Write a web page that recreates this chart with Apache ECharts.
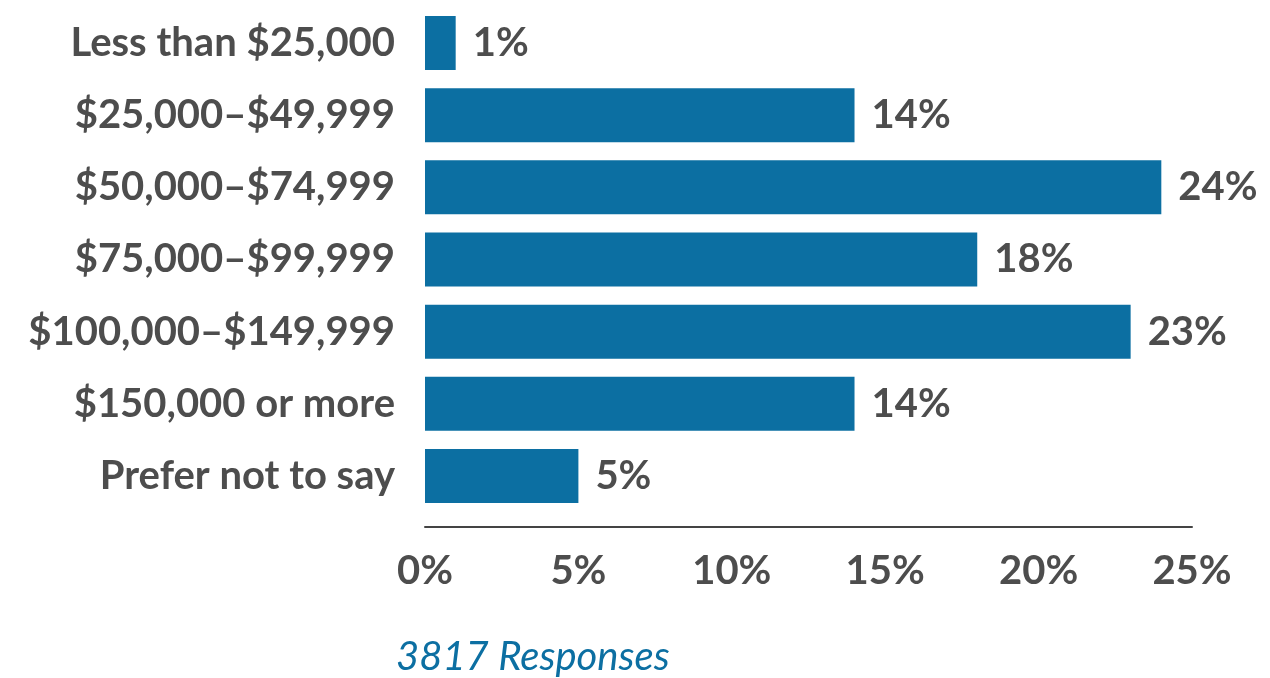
<!DOCTYPE html>
<html>
<head>
<meta charset="utf-8">
<script src="https://cdn.jsdelivr.net/npm/echarts@6/dist/echarts.min.js"></script>
<style>
  html, body { margin: 0; padding: 0; background: #fff; }
  #chart { width: 1270px; height: 678px; }
</style>
</head>
<body>
<div id="chart"></div>
<script>
// Household income brackets and share of respondents (%)
const incomeBrackets = [
  'Less than $25,000',
  '$25,000–$49,999',
  '$50,000–$74,999',
  '$75,000–$99,999',
  '$100,000–$149,999',
  '$150,000 or more',
  'Prefer not to say'
];
const sharePercent = [1, 14, 24, 18, 23, 14, 5];
const responseNote = '3817 Responses';

const textGrey = '#4d4d4d';
const barBlue = '#0c6fa2';
const fontFamily = 'Lato, "Source Sans Pro", "Noto Sans", sans-serif';
const fontSize = 40;

const chart = echarts.init(document.getElementById('chart'));
chart.setOption({
  animation: false,
  grid: { left: 425, right: 78, top: 7, bottom: 166 },
  xAxis: {
    type: 'value',
    min: 0,
    max: 25,
    interval: 5,
    offset: 15,
    axisLine: { show: true, lineStyle: { color: '#444', width: 2 } },
    axisTick: { show: false },
    splitLine: { show: false },
    axisLabel: {
      formatter: '{value}%',
      color: textGrey,
      fontFamily: fontFamily,
      fontWeight: 'bold',
      fontSize: fontSize,
      margin: 24
    }
  },
  yAxis: {
    type: 'category',
    inverse: true,
    data: incomeBrackets,
    axisLine: { show: false },
    axisTick: { show: false },
    axisLabel: {
      color: textGrey,
      fontFamily: fontFamily,
      fontWeight: 'bold',
      fontSize: fontSize,
      padding: [8, 0, 0, 0],
      margin: 30
    }
  },
  series: [{
    type: 'bar',
    data: sharePercent,
    barWidth: 54,
    itemStyle: { color: barBlue },
    label: {
      show: true,
      position: 'right',
      distance: 17,
      formatter: '{c}%',
      color: textGrey,
      fontFamily: fontFamily,
      fontWeight: 'bold',
      fontSize: fontSize,
      padding: [8, 0, 0, 0]
    }
  }],
  graphic: [{
    type: 'text',
    left: 396,
    top: 637,
    style: {
      text: responseNote,
      fill: barBlue,
      font: 'italic ' + fontSize + 'px ' + fontFamily
    }
  }]
});
</script>
</body>
</html>
